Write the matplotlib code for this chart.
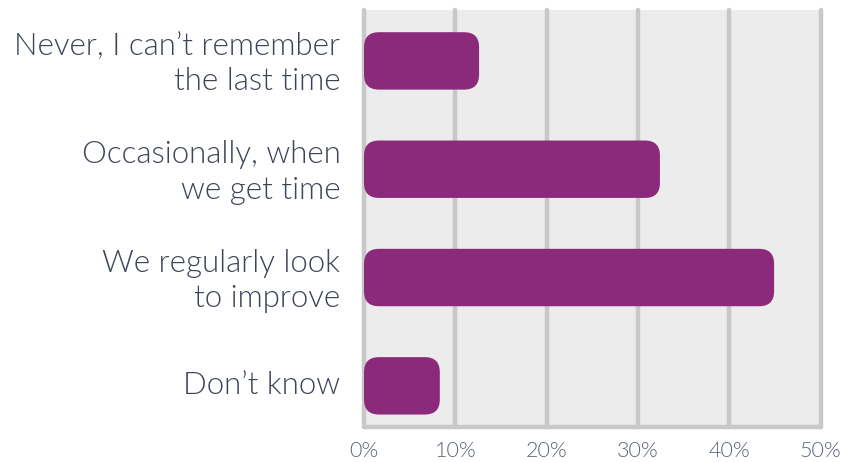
import matplotlib.pyplot as plt
from matplotlib.patches import FancyBboxPatch
from matplotlib.transforms import ScaledTranslation

# survey answers and their share of respondents (%)
answers = ["Never, I can\u2019t remember\nthe last time",
           "Occasionally, when\nwe get time",
           "We regularly look\nto improve",
           "Don\u2019t know"]
shares = [12.6, 32.4, 44.9, 8.3]
ticks = [0, 10, 20, 30, 40, 50]
tick_labels = ["0%", "10%", "20%", "30%", "40%", "50%"]

bar_color = "#8b2a7b"
grid_color = "#c8c8c8"
panel_color = "#ececec"
label_color = "#3c4556"

W, H = 865, 462
fig = plt.figure(figsize=(W / 100, H / 100), dpi=100)
left, right, top, bottom = 364, 820.7, 10, 427
ax = fig.add_axes([left / W, 1 - bottom / H, (right - left) / W, (bottom - top) / H])
ax.set_facecolor(panel_color)
ax.set_xlim(0, 50)
ax.set_ylim(3.38, -0.47)
for s in ax.spines.values():
    s.set_visible(False)

# grid lines and bottom border
lw = 3.2
for t in ticks:
    ax.plot([t, t], [3.38, -0.47], color=grid_color, lw=lw, solid_capstyle="round",
            zorder=1, clip_on=False)
ax.plot([0, 50], [3.38, 3.38], color=grid_color, lw=lw, solid_capstyle="round",
        zorder=1, clip_on=False)

# rounded bars
px_x = (right - left) / 50.0
px_y = (bottom - top) / 3.85
radius_px = 15
bar_h = 0.53
for i, v in enumerate(shares):
    r = radius_px / px_x
    box = FancyBboxPatch((0, i - bar_h / 2), v, bar_h,
                         boxstyle="round,pad=0,rounding_size=%f" % r,
                         mutation_aspect=px_x / px_y,
                         fc=bar_color, ec="none", zorder=3)
    ax.add_patch(box)

ax.set_yticks(range(len(answers)))
ax.set_yticklabels(answers, fontsize=22.5, color=label_color, family="Lato",
                   fontweight=300, linespacing=1.28)
ax.set_xticks(ticks)
ax.set_xticklabels(tick_labels, fontsize=15.5, color="#5b6473", family="Lato",
                   fontweight=300)
ax.tick_params(axis="y", length=0, pad=17)
ax.tick_params(axis="x", length=0, pad=10)

# nudge the category labels up a little
shift = ScaledTranslation(0, 3 / 100, fig.dpi_scale_trans)
for lab in ax.get_yticklabels():
    lab.set_transform(lab.get_transform() + shift)

fig.savefig("out.png", dpi=100)
